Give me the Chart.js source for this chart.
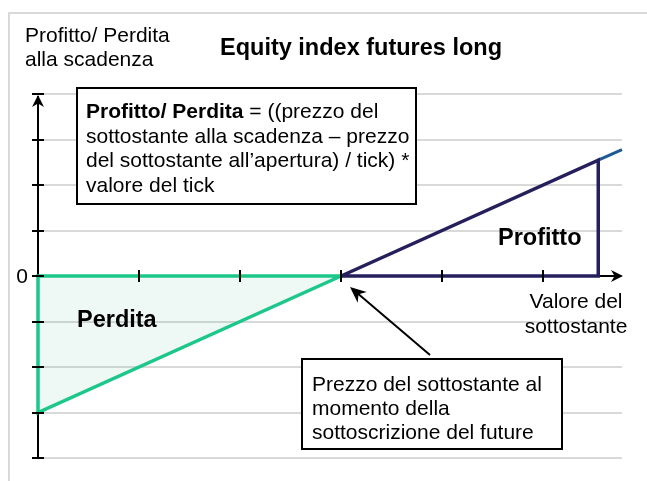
<!DOCTYPE html>
<html>
<head>
<meta charset="utf-8">
<script src="https://cdn.jsdelivr.net/npm/chart.js@4"></script>
<style>
  html, body { margin: 0; padding: 0; background: #ffffff; }
  #wrap { width: 647px; height: 481px; position: relative; }
</style>
</head>
<body>
<div id="wrap"><canvas id="c" width="647" height="481"></canvas></div>
<script>
// ---- data ----
const xTickValues = [1, 2, 3, 4, 5];
const yTickValues = [-4, -3, -2, -1, 0, 1, 2, 3, 4];
const xRange = [0, 5.78];
const yRange = [-4, 4];
// loss region (Perdita): payoff line below zero and its outline
const lossLineX = [0, 3];
const lossLineY = [-3, 0];
const lossX = [3, 0, 0, 3];
const lossY = [0, 0, -3, 0];
// profit region (Profitto): outline polygon
const profitX = [3, 5.545, 5.545, 3];
const profitY = [0, 2.545, 0, 0];
// payoff line continuing past expiry marker
const extendX = [5.545, 5.78];
const extendY = [2.545, 2.78];

const zip = (xs, ys) => xs.map((x, i) => ({ x: x, y: ys[i] }));

const FONT = '"Liberation Sans", Arial, sans-serif';

function arrowHead(ctx, tipX, tipY, dirX, dirY, len, half) {
  const px = -dirY, py = dirX;
  const bx = tipX - dirX * len, by = tipY - dirY * len;
  const nx = tipX - dirX * len * 0.7, ny = tipY - dirY * len * 0.7;
  ctx.beginPath();
  ctx.moveTo(tipX, tipY);
  ctx.lineTo(bx + px * half, by + py * half);
  ctx.lineTo(nx, ny);
  ctx.lineTo(bx - px * half, by - py * half);
  ctx.closePath();
  ctx.fill();
}

const axesPlugin = {
  id: 'axesPlugin',
  beforeDatasetsDraw(chart) {
    const ctx = chart.ctx, xs = chart.scales.x, ys = chart.scales.y;
    const x0 = xs.getPixelForValue(0), y0 = ys.getPixelForValue(0);
    ctx.save();
    ctx.strokeStyle = '#000';
    ctx.lineWidth = 2;
    ctx.beginPath();
    ctx.moveTo(x0, ys.getPixelForValue(yRange[1]) + 2);
    ctx.lineTo(x0, ys.getPixelForValue(yRange[0]));
    ctx.stroke();
    ctx.beginPath();
    ctx.moveTo(x0, y0);
    ctx.lineTo(xs.getPixelForValue(xRange[1]) - 4, y0);
    ctx.stroke();
    ctx.restore();
  },
  afterDatasetsDraw(chart) {
    const ctx = chart.ctx, xs = chart.scales.x, ys = chart.scales.y;
    const x0 = xs.getPixelForValue(0), y0 = ys.getPixelForValue(0);
    ctx.save();
    ctx.strokeStyle = '#000';
    ctx.fillStyle = '#000';
    ctx.lineWidth = 2;
    // y ticks
    yTickValues.forEach(v => {
      const y = Math.round(ys.getPixelForValue(v));
      ctx.beginPath(); ctx.moveTo(x0 - 6, y); ctx.lineTo(x0 + 6, y); ctx.stroke();
    });
    // x ticks
    xTickValues.forEach(v => {
      const x = Math.round(xs.getPixelForValue(v));
      ctx.beginPath(); ctx.moveTo(x, y0 - 6); ctx.lineTo(x, y0 + 6); ctx.stroke();
    });
    // arrowheads
    arrowHead(ctx, x0, ys.getPixelForValue(yRange[1]) + 1, 0, -1, 12, 6);
    arrowHead(ctx, xs.getPixelForValue(xRange[1]) + 1, y0, 1, 0, 12, 6);

    // frame lines
    ctx.strokeStyle = '#d9d9d9';
    ctx.lineWidth = 2;
    ctx.beginPath(); ctx.moveTo(9, 481); ctx.lineTo(9, 13); ctx.lineTo(647, 13); ctx.stroke();

    // texts
    ctx.fillStyle = '#000';
    ctx.textBaseline = 'alphabetic';
    ctx.textAlign = 'left';
    ctx.font = '21px ' + FONT;
    ctx.fillText('Profitto/ Perdita', 25, 42);
    ctx.fillText('alla scadenza', 25, 66);
    ctx.textAlign = 'right';
    ctx.fillText('0', 28, 283);
    ctx.textAlign = 'center';
    ctx.fillText('Valore del', 576, 308);
    ctx.fillText('sottostante', 576, 333);

    ctx.textAlign = 'left';
    ctx.font = 'bold 23.5px ' + FONT;
    ctx.fillText('Equity index futures long', 220, 55);
    ctx.fillText('Perdita', 77, 327);
    ctx.fillText('Profitto', 498, 245);

    // formula box
    ctx.fillStyle = '#fff';
    ctx.fillRect(77, 88, 339, 116);
    ctx.strokeStyle = '#000';
    ctx.lineWidth = 2;
    ctx.strokeRect(77, 88, 339, 116);
    ctx.fillStyle = '#000';
    ctx.font = 'bold 21px ' + FONT;
    const b = 'Profitto/ Perdita';
    ctx.fillText(b, 86, 118);
    const bw = ctx.measureText(b).width;
    ctx.font = '21px ' + FONT;
    ctx.fillText(' = ((prezzo del', 86 + bw, 118);
    ctx.fillText('sottostante alla scadenza \u2013 prezzo', 86, 143);
    ctx.fillText('del sottostante all\u2019apertura) / tick) *', 86, 167);
    ctx.fillText('valore del tick', 86, 192);

    // strike box
    ctx.fillStyle = '#fff';
    ctx.fillRect(302, 359, 260, 90);
    ctx.strokeRect(302, 359, 260, 90);
    ctx.fillStyle = '#000';
    ctx.fillText('Prezzo del sottostante al', 312, 391);
    ctx.fillText('momento della', 312, 415);
    ctx.fillText('sottoscrizione del future', 312, 439);

    // pointer arrow
    ctx.lineWidth = 2;
    ctx.beginPath(); ctx.moveTo(430, 355); ctx.lineTo(356, 292); ctx.stroke();
    const dx = 350 - 430, dy = 287 - 355, L = Math.hypot(dx, dy);
    arrowHead(ctx, 350, 287, dx / L, dy / L, 16, 7);
    ctx.restore();
  }
};

new Chart(document.getElementById('c'), {
  type: 'line',
  data: {
    datasets: [
      {
        data: zip(lossX, lossY),
        borderColor: '#1cc78a',
        borderWidth: 3.5,
        fill: false,
        pointRadius: 0,
        tension: 0,
        borderJoinStyle: 'miter',
        clip: 6,
        order: 1
      },
      {
        data: zip(profitX, profitY),
        borderColor: '#25205c',
        borderWidth: 3.5,
        fill: false,
        pointRadius: 0,
        tension: 0,
        borderJoinStyle: 'miter',
        clip: 6,
        order: 0
      },
      {
        data: zip(extendX, extendY),
        borderColor: '#1f5a96',
        borderWidth: 3,
        fill: false,
        pointRadius: 0,
        tension: 0,
        clip: 6,
        order: 0
      },
      {
        data: zip(lossLineX, lossLineY),
        borderColor: 'rgba(0,0,0,0)',
        backgroundColor: 'rgba(12,155,112,0.07)',
        borderWidth: 0,
        fill: 'origin',
        pointRadius: 0,
        tension: 0,
        clip: 6,
        order: 5
      }
    ]
  },
  options: {
    responsive: false,
    animation: false,
    devicePixelRatio: 1,
    layout: { padding: { left: 38, right: 25, top: 94, bottom: 23 } },
    plugins: { legend: { display: false }, tooltip: { enabled: false }, title: { display: false },
               filler: { propagate: false } },
    scales: {
      x: {
        type: 'linear', min: xRange[0], max: xRange[1],
        display: false
      },
      y: {
        type: 'linear', min: yRange[0], max: yRange[1],
        display: true,
        ticks: { display: false, stepSize: 1 },
        border: { display: false },
        grid: { color: '#d9d9d9', lineWidth: 2, drawTicks: false }
      }
    }
  },
  plugins: [axesPlugin]
});
</script>
</body>
</html>
